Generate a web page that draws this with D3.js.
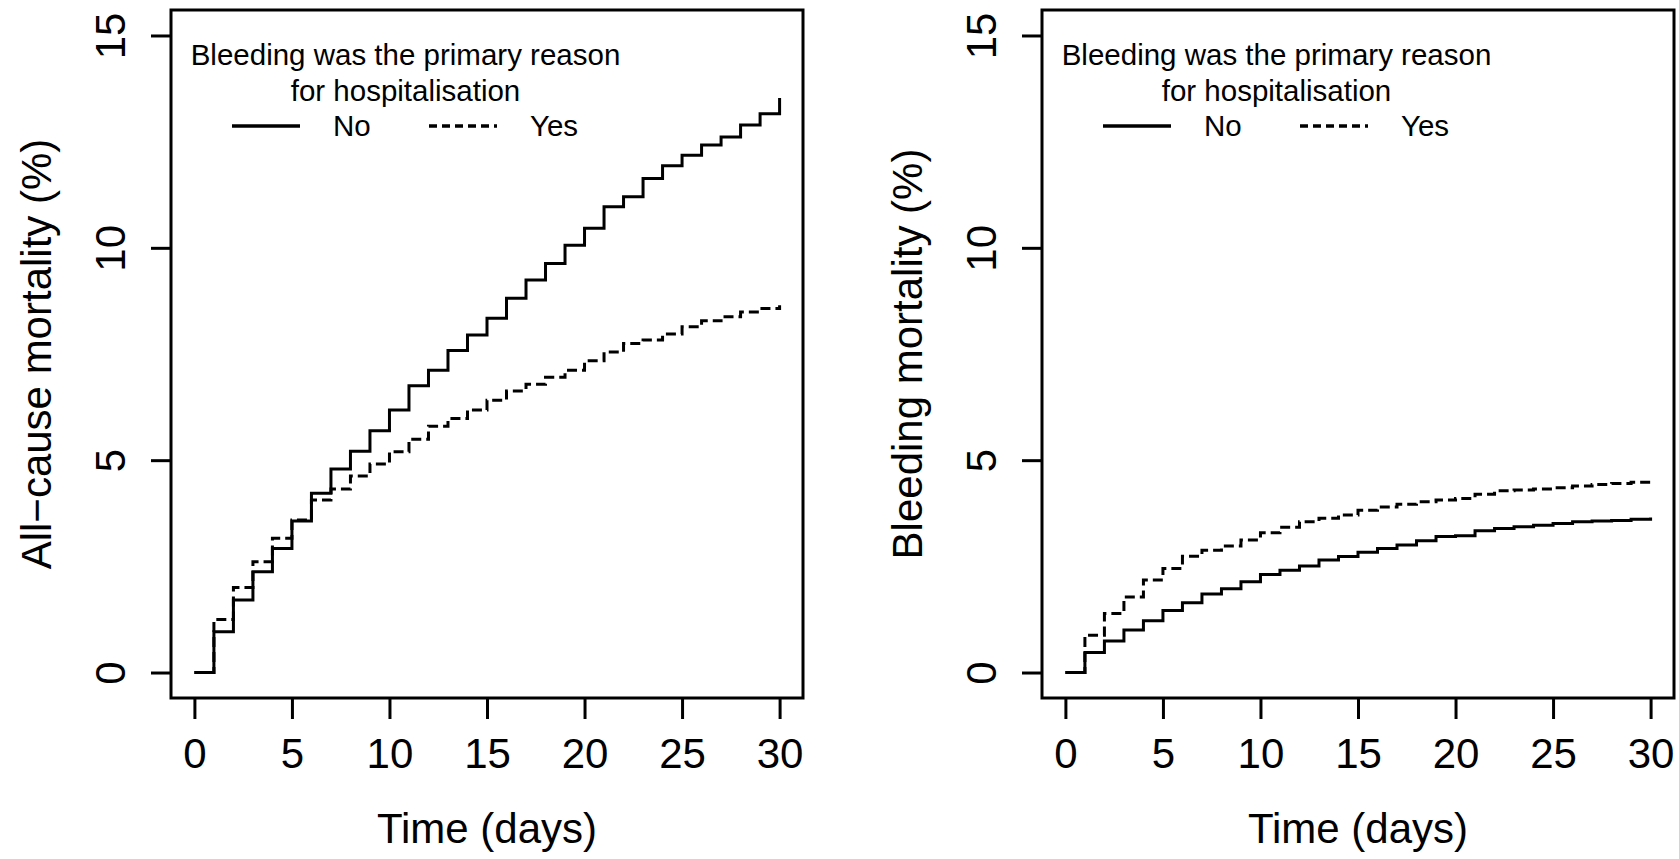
<!DOCTYPE html>
<html>
<head>
<meta charset="utf-8">
<script src="https://cdn.jsdelivr.net/npm/d3@7"></script>
<style>
  body { margin: 0; background: #fff; }
  text { font-family: "Liberation Sans", Arial, sans-serif; fill: #000; }
</style>
</head>
<body>
<svg id="chart" width="1679" height="859"></svg>
<script>
// cumulative mortality (%) at each day 0..30
const days = d3.range(0, 31);
const allCauseNo = [0, 0.96, 1.71, 2.37, 2.92, 3.57, 4.22, 4.79, 5.21, 5.69, 6.18, 6.75, 7.12, 7.58, 7.95, 8.34,
  8.81, 9.24, 9.63, 10.06, 10.46, 10.97, 11.2, 11.63, 11.93, 12.18, 12.42, 12.61, 12.89, 13.16, 13.53];
const allCauseYes = [0, 1.25, 2.0, 2.61, 3.16, 3.59, 4.06, 4.32, 4.63, 4.91, 5.2, 5.49, 5.8, 5.98, 6.18, 6.41,
  6.63, 6.79, 6.95, 7.12, 7.34, 7.55, 7.75, 7.83, 7.97, 8.14, 8.28, 8.38, 8.49, 8.57, 8.65];
const bleedingNo = [0, 0.47, 0.74, 1.0, 1.22, 1.46, 1.64, 1.85, 1.97, 2.14, 2.31, 2.41, 2.51, 2.65, 2.73, 2.83,
  2.92, 3.0, 3.1, 3.2, 3.22, 3.34, 3.39, 3.43, 3.47, 3.51, 3.55, 3.57, 3.58, 3.61, 3.65];
const bleedingYes = [0, 0.88, 1.39, 1.78, 2.18, 2.45, 2.74, 2.88, 2.98, 3.12, 3.29, 3.42, 3.55, 3.63, 3.71, 3.82,
  3.9, 3.96, 4.02, 4.06, 4.1, 4.2, 4.28, 4.3, 4.32, 4.35, 4.39, 4.43, 4.45, 4.48, 4.52];

const xTicks = [0, 5, 10, 15, 20, 25, 30];
const yTicks = [0, 5, 10, 15];
const legendTitle = ["Bleeding was the primary reason", "for hospitalisation"];
const legendKeys = ["No", "Yes"];

const svg = d3.select("#chart");
const boxTop = 10, boxBottom = 698, boxW = 632;
const lw = 3;

const panels = [
  { left: 171, yLabel: "All\u2212cause mortality (%)", no: allCauseNo, yes: allCauseYes },
  { left: 1042, yLabel: "Bleeding mortality (%)", no: bleedingNo, yes: bleedingYes }
];

panels.forEach(p => {
  // R style: 4% padding on both axes
  const x = d3.scaleLinear().domain([-1.2, 31.2]).range([p.left, p.left + boxW]);
  const y = d3.scaleLinear().domain([-0.6, 15.6]).range([boxBottom, boxTop]);

  const line = d3.line()
    .x((d, i) => x(days[i]))
    .y(d => y(d))
    .curve(d3.curveStepAfter);

  svg.append("path")
    .datum(p.no)
    .attr("d", line)
    .attr("fill", "none")
    .attr("stroke", "#000")
    .attr("stroke-width", lw);

  svg.append("path")
    .datum(p.yes)
    .attr("d", line)
    .attr("fill", "none")
    .attr("stroke", "#000")
    .attr("stroke-width", lw)
    .attr("stroke-dasharray", "10,5");

  // box
  svg.append("rect")
    .attr("x", p.left).attr("y", boxTop)
    .attr("width", boxW).attr("height", boxBottom - boxTop)
    .attr("fill", "none").attr("stroke", "#000").attr("stroke-width", lw);

  // x axis
  const gx = svg.append("g")
    .attr("transform", `translate(0,${boxBottom})`)
    .call(d3.axisBottom(x).tickValues(xTicks).tickSize(21).tickSizeOuter(0).tickFormat(""));
  gx.select(".domain").remove();
  gx.selectAll(".tick line").attr("stroke-width", lw);
  gx.selectAll(".tick").append("text")
    .attr("y", 70)
    .attr("text-anchor", "middle")
    .style("font-size", "42px")
    .text(d => d);

  // y axis
  const gy = svg.append("g")
    .attr("transform", `translate(${p.left},0)`)
    .call(d3.axisLeft(y).tickValues(yTicks).tickSize(20).tickSizeOuter(0).tickFormat(""));
  gy.select(".domain").remove();
  gy.selectAll(".tick line").attr("stroke-width", lw);
  gy.selectAll(".tick").append("text")
    .attr("transform", "translate(-46,0) rotate(-90)")
    .attr("text-anchor", "middle")
    .attr("x", 0).attr("y", 0).attr("dy", 0)
    .style("font-size", "42px")
    .text(d => d);

  // axis titles
  svg.append("text")
    .attr("x", p.left + boxW / 2)
    .attr("y", 843)
    .attr("text-anchor", "middle")
    .style("font-size", "42px")
    .text("Time (days)");

  svg.append("text")
    .attr("transform", `translate(${p.left - 120},${(boxTop + boxBottom) / 2}) rotate(-90)`)
    .attr("text-anchor", "middle")
    .style("font-size", "42px")
    .text(p.yLabel);

  // legend
  const lg = svg.append("g").attr("transform", `translate(${p.left},0)`);
  lg.selectAll(".ltitle")
    .data(legendTitle)
    .enter().append("text")
    .attr("x", 234.5)
    .attr("y", (d, i) => 65 + i * 35.5)
    .attr("text-anchor", "middle")
    .style("font-size", "29.5px")
    .text(d => d);

  const keyX = [61, 258];
  legendKeys.forEach((k, i) => {
    lg.append("line")
      .attr("x1", keyX[i]).attr("x2", keyX[i] + 68)
      .attr("y1", 126).attr("y2", 126)
      .attr("stroke", "#000").attr("stroke-width", lw + 0.5)
      .attr("stroke-dasharray", i === 1 ? "8,5" : null);
    lg.append("text")
      .attr("x", keyX[i] + 101)
      .attr("y", 136)
      .style("font-size", "29.5px")
      .text(k);
  });
});
</script>
</body>
</html>
